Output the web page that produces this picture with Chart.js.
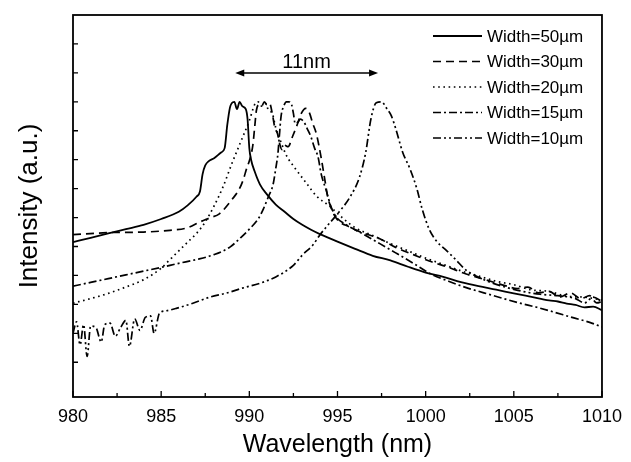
<!DOCTYPE html>
<html>
<head>
<meta charset="utf-8">
<script src="https://cdn.jsdelivr.net/npm/chart.js@4"></script>
<style>
  html, body { margin: 0; padding: 0; background: #fff; }
  #wrap { width: 631px; height: 462px; }
</style>
</head>
<body>
<div id="wrap"><canvas id="c" width="631" height="462"></canvas></div>
<script>
// ---------------- DATA ----------------
const seriesNames = ['Width=50\u00b5m', 'Width=30\u00b5m', 'Width=20\u00b5m', 'Width=15\u00b5m', 'Width=10\u00b5m'];

const w50_x = [980, 981, 982, 983, 984, 985, 986, 986.5, 987, 987.2, 987.35, 987.5, 987.7, 988, 988.4, 988.6, 988.75, 988.9, 989.0, 989.15, 989.3, 989.45, 989.6, 989.8, 989.9, 990.0, 990.1, 990.3, 990.6, 991, 991.5, 992, 992.5, 993, 993.5, 994, 994.5, 995, 996, 997, 998, 999, 1000, 1001, 1002, 1003, 1004, 1005, 1006, 1007, 1007.5, 1008, 1008.5, 1009, 1009.5, 1010];
const w50_y = [4.15, 4.3, 4.45, 4.6, 4.75, 4.95, 5.2, 5.42, 5.72, 5.9, 6.5, 6.8, 6.95, 7.05, 7.25, 7.4, 8.2, 8.8, 8.95, 9.0, 8.75, 9.0, 8.85, 8.75, 8.4, 7.4, 7.0, 6.6, 6.15, 5.8, 5.45, 5.2, 4.95, 4.75, 4.58, 4.43, 4.3, 4.17, 3.92, 3.68, 3.52, 3.3, 3.1, 2.95, 2.77, 2.63, 2.51, 2.38, 2.26, 2.14, 2.1, 2.03, 1.98, 1.9, 1.92, 1.8];

const w30_x = [980, 982, 984, 985.5, 986.5, 987.2, 987.8, 988.3, 989.05, 989.4, 989.64, 989.85, 990.02, 990.2, 990.3, 990.4, 990.55, 990.7, 990.85, 991.0, 991.15, 991.3, 991.45, 991.6, 991.7, 991.85, 992.0, 992.2, 992.45, 992.74, 992.94, 993.2, 993.4, 993.6, 993.8, 994.07, 994.26, 994.45, 994.55, 994.9, 995.7, 996.3, 997.4, 998.3, 999.3, 1000.2, 1001.2, 1002.3, 1003.4, 1004.5, 1005.2, 1005.8, 1006.4, 1007, 1007.6, 1008.2, 1008.8, 1009.3, 1009.7, 1010];
const w30_y = [4.41, 4.48, 4.5, 4.56, 4.65, 4.85, 5.0, 5.13, 5.65, 5.95, 6.28, 6.7, 7.0, 7.5, 8.1, 8.7, 8.9, 8.85, 9.0, 8.9, 8.95, 8.6, 8.1, 7.9, 7.6, 7.35, 7.5, 7.45, 7.8, 8.25, 8.59, 8.77, 8.63, 8.25, 7.9, 7.08, 6.39, 5.7, 5.49, 5.0, 4.67, 4.5, 4.27, 3.97, 3.72, 3.5, 3.3, 3.05, 2.85, 2.65, 2.55, 2.6, 2.4, 2.45, 2.25, 2.4, 2.2, 2.3, 2.05, 2.1];

const w20_x = [980, 981, 982, 983, 984, 985, 985.5, 986, 986.5, 987, 987.5, 988, 988.5, 989, 989.5, 990, 990.3, 990.5, 990.7, 990.9, 991.1, 991.3, 991.5, 991.8, 992.1, 992.6, 993.2, 993.8, 994.5, 995.3, 996, 997, 998, 999, 1000, 1001, 1002, 1003, 1004, 1005, 1006, 1007, 1008, 1009, 1010];
const w20_y = [2.04, 2.2, 2.38, 2.6, 2.85, 3.25, 3.55, 3.85, 4.15, 4.45, 4.85, 5.4, 6.05, 6.85, 7.6, 8.35, 8.9, 9.0, 8.85, 8.95, 8.7, 8.6, 8.1, 7.6, 7.15, 6.7, 6.22, 5.75, 5.42, 4.98, 4.65, 4.38, 4.1, 3.85, 3.6, 3.38, 3.16, 2.98, 2.8, 2.68, 2.5, 2.45, 2.28, 2.25, 2.15];

const w15_x = [980, 981, 982, 983, 984, 985, 986, 987, 988, 988.9, 989.5, 990, 990.5, 990.8, 991.1, 991.35, 991.5, 991.62, 991.7, 991.8, 991.95, 992.1, 992.25, 992.4, 992.5, 992.6, 992.75, 992.9, 993.1, 993.3, 993.5, 993.7, 993.9, 994.07, 994.36, 994.64, 994.93, 995.5, 996.4, 997.4, 998.3, 999.3, 1000.3, 1001.3, 1002.3, 1003.3, 1004.3, 1005.3, 1006.3, 1007.3, 1008.3, 1009.3, 1010];
const w15_y = [2.63, 2.76, 2.89, 3.02, 3.15, 3.28, 3.42, 3.55, 3.72, 3.98, 4.3, 4.6, 4.95, 5.3, 5.75, 6.15, 6.7, 7.2, 7.8, 8.5, 8.85, 9.0, 9.0, 8.9, 8.6, 8.25, 8.3, 8.4, 8.3, 8.05, 7.78, 7.4, 7.09, 6.52, 5.94, 5.36, 5.02, 4.75, 4.45, 4.1, 3.78, 3.42, 3.05, 2.8, 2.58, 2.4, 2.22, 2.05, 1.9, 1.73, 1.55, 1.38, 1.22];

const w10_x = [980, 980.2, 980.4, 980.6, 980.8, 981.0, 981.3, 981.6, 981.8, 982.1, 982.4, 982.7, 983.0, 983.2, 983.5, 983.8, 984.1, 984.4, 984.6, 984.9, 985.3, 985.9, 986.8, 987.75, 988.7, 989.6, 990.6, 991.5, 992.5, 993.0, 993.6, 994.0, 994.4, 995.1, 995.7, 996.25, 996.6, 996.9, 997.2, 997.5, 997.8, 998.05, 998.3, 998.7, 999.1, 999.5, 999.8, 1000.2, 1000.6, 1001.2, 1001.7, 1002.3, 1003.4, 1004.5, 1005.5, 1006.5, 1007.5, 1008.5, 1009, 1009.5, 1010];
const w10_y = [1.0, 1.4, 0.6, 1.3, 0.2, 1.25, 1.2, 0.7, 1.3, 1.35, 0.9, 1.2, 1.45, 0.55, 1.5, 1.1, 1.55, 1.6, 1.0, 1.69, 1.78, 1.87, 2.04, 2.25, 2.39, 2.56, 2.73, 2.95, 3.35, 3.7, 4.05, 4.4, 4.7, 5.2, 5.7, 6.4, 7.25, 8.42, 8.97, 9.0, 8.76, 8.52, 8.08, 7.25, 6.7, 6.0, 5.3, 4.6, 4.2, 3.85, 3.55, 3.18, 2.83, 2.6, 2.45, 2.35, 2.3, 2.2, 2.05, 2.25, 2.1];

const xMajorTicks = [980, 985, 990, 995, 1000, 1005, 1010];
const xMinorTicks = [982.5, 987.5, 992.5, 997.5, 1002.5, 1007.5];
const yTicks = [0, 1, 2, 3, 4, 5, 6, 7, 8, 9, 10, 11];

const arrowX = [989.2, 997.3];
const arrowY = 10;
const arrowLabel = '11nm';

// ---------------- STYLES ----------------
const FONT = "'Liberation Sans', Arial, Helvetica, sans-serif";
const dashes = [[], [8, 5], [1.6, 3.6], [8, 3, 2, 3], [8, 3, 2, 3, 2, 3]];
const xs = [w50_x, w30_x, w20_x, w15_x, w10_x];
const ys = [w50_y, w30_y, w20_y, w15_y, w10_y];

const datasets = seriesNames.map((name, i) => ({
  label: name,
  data: xs[i].map((x, j) => ({ x: x, y: ys[i][j] })),
  borderColor: '#000',
  borderWidth: i === 0 ? 1.8 : 1.7,
  borderDash: dashes[i],
  pointRadius: 0,
  fill: false,
  cubicInterpolationMode: 'monotone'
}));

// ---------------- PLUGINS ----------------
const framePlugin = {
  id: 'frame',
  afterDatasetsDraw(chart) {
    const { ctx, chartArea: a, scales } = chart;
    ctx.save();
    ctx.strokeStyle = '#000';
    ctx.lineWidth = 1.8;
    ctx.setLineDash([]);
    ctx.strokeRect(a.left, a.top, a.right - a.left, a.bottom - a.top);
    ctx.lineWidth = 1.3;
    ctx.beginPath();
    xMajorTicks.forEach(v => {
      const px = scales.x.getPixelForValue(v);
      ctx.moveTo(px, a.bottom); ctx.lineTo(px, a.bottom - 6);
    });
    xMinorTicks.forEach(v => {
      const px = scales.x.getPixelForValue(v);
      ctx.moveTo(px, a.bottom); ctx.lineTo(px, a.bottom - 4);
    });
    yTicks.forEach(v => {
      const py = scales.y.getPixelForValue(v);
      ctx.moveTo(a.left, py); ctx.lineTo(a.left + 5, py);
    });
    ctx.stroke();
    ctx.restore();
  }
};

const legendPlugin = {
  id: 'customLegend',
  afterDraw(chart) {
    const { ctx } = chart;
    ctx.save();
    ctx.fillStyle = '#000';
    ctx.strokeStyle = '#000';
    ctx.font = '17px ' + FONT;
    ctx.textBaseline = 'middle';
    ctx.textAlign = 'left';
    const x0 = 433, x1 = 482, tx = 487, y0 = 36, dy = 25.5;
    chart.data.datasets.forEach((ds, i) => {
      const y = y0 + i * dy;
      ctx.lineWidth = ds.borderWidth;
      ctx.setLineDash(ds.borderDash);
      ctx.beginPath(); ctx.moveTo(x0, y); ctx.lineTo(x1, y); ctx.stroke();
      ctx.setLineDash([]);
      ctx.fillText(ds.label, tx, y + 1);
    });
    ctx.restore();
  }
};

const arrowPlugin = {
  id: 'arrow',
  afterDraw(chart) {
    const { ctx, scales } = chart;
    const xa = scales.x.getPixelForValue(arrowX[0]);
    const xb = scales.x.getPixelForValue(arrowX[1]);
    const y = scales.y.getPixelForValue(arrowY);
    ctx.save();
    ctx.strokeStyle = '#000'; ctx.fillStyle = '#000';
    ctx.lineWidth = 1.5; ctx.setLineDash([]);
    ctx.beginPath(); ctx.moveTo(xa + 4, y); ctx.lineTo(xb - 4, y); ctx.stroke();
    ctx.beginPath(); ctx.moveTo(xa, y); ctx.lineTo(xa + 9, y - 3.5); ctx.lineTo(xa + 9, y + 3.5); ctx.closePath(); ctx.fill();
    ctx.beginPath(); ctx.moveTo(xb, y); ctx.lineTo(xb - 9, y - 3.5); ctx.lineTo(xb - 9, y + 3.5); ctx.closePath(); ctx.fill();
    ctx.font = '20px ' + FONT;
    ctx.textAlign = 'center'; ctx.textBaseline = 'alphabetic';
    ctx.fillText(arrowLabel, (xa + xb) / 2, y - 5);
    ctx.restore();
  }
};

// ---------------- CHART ----------------
new Chart(document.getElementById('c'), {
  type: 'line',
  data: { datasets: datasets },
  options: {
    responsive: false,
    animation: false,
    devicePixelRatio: 1,
    layout: { padding: { top: 15, right: 28, left: 0, bottom: 0 } },
    plugins: { legend: { display: false }, tooltip: { enabled: false } },
    scales: {
      x: {
        type: 'linear', min: 980, max: 1010,
        afterBuildTicks: s => { s.ticks = xMajorTicks.map(v => ({ value: v })); },
        ticks: { color: '#000', font: { family: FONT, size: 18 }, padding: 9, maxRotation: 0, autoSkip: false, callback: v => String(v) },
        grid: { display: false, drawTicks: false },
        border: { display: false },
        title: { display: true, text: 'Wavelength (nm)', color: '#000', font: { family: FONT, size: 25 }, padding: { top: 0, bottom: 2 } },
        afterFit: s => { s.height = 65; }
      },
      y: {
        type: 'linear', min: -1.2, max: 12,
        ticks: { display: false },
        grid: { display: false, drawTicks: false },
        border: { display: false },
        title: { display: true, text: 'Intensity (a.u.)', color: '#000', font: { family: FONT, size: 26 }, padding: { top: 14, bottom: 0 } },
        afterFit: s => { s.width = 73; }
      }
    }
  },
  plugins: [framePlugin, legendPlugin, arrowPlugin]
});
</script>
</body>
</html>
